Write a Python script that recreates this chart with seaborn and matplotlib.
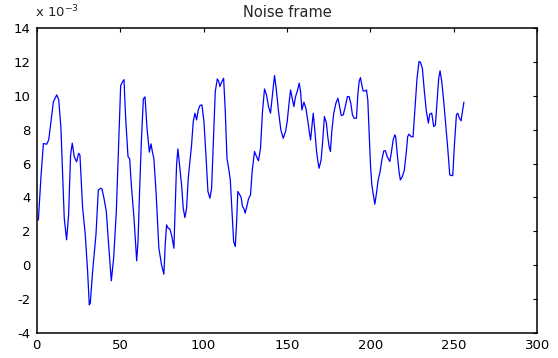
import matplotlib
matplotlib.use("Agg")
import matplotlib.pyplot as plt
import seaborn as sns
import pandas as pd

# sample index
sample = [1, 2.6, 4, 6, 7.2, 8.6, 10, 12, 13.2, 14.5, 16.5, 17.9, 19.1, 20.3, 21.3, 22.5, 23.9,
          25.1, 25.9, 27.5, 29.1, 30.5, 31.5, 32.1, 33.5, 35.5, 36.9, 38.3, 39.1, 40.3, 41.7,
          43.1, 44.7, 46.1, 47.7, 49.1, 50.3, 51.3, 52.3, 53.3, 54.7, 55.7, 56.7, 58.3, 59.9,
          60.7, 61.7, 62.7, 63.9, 64.9, 66.1, 67.5, 68.5, 69.3, 70.2, 71.6, 73.2, 74.8, 76.2,
          77.0, 77.8, 78.8, 79.8, 81.0, 82.2, 83.0, 83.8, 84.6, 85.4, 86.8, 87.8, 88.8, 89.8,
          90.8, 92.8, 93.8, 94.8, 95.8, 96.8, 97.8, 99.0, 100.2, 101.4, 102.6, 103.8, 104.8,
          105.8, 107.0, 108.2, 109.0, 109.8, 110.8, 112.0, 113.0, 114.0, 115.0, 116.0, 117.0,
          118.0, 119.0, 119.8, 120.5, 121.7, 122.5, 123.3, 124.1, 124.9, 125.9, 126.9, 128.1,
          129.1, 130.5, 131.7, 132.9, 134.1, 135.3, 136.5, 137.7, 138.9, 140.1, 141.3, 142.5,
          143.5, 144.9, 146.3, 147.7, 149.1, 150.1, 151.1, 152.1, 153.1, 154.1, 155.1, 156.1,
          157.3, 158.1, 158.9, 160.1, 161.3, 162.5, 163.3, 164.1, 164.9, 165.7, 166.7, 167.7,
          168.5, 169.2, 170.4, 171.2, 172.4, 173.6, 174.4, 175.2, 176.0, 176.8, 178.0, 179.3,
          180.5, 181.3, 182.5, 183.7, 184.9, 186.2, 187.2, 188.2, 189.2, 190.2, 191.6, 192.4,
          193.2, 194.0, 194.8, 195.6, 196.8, 197.6, 198.4, 199.2, 200.0, 200.8, 201.6, 202.6,
          203.6, 204.6, 205.8, 206.8, 208.0, 209.0, 210.0, 211.6, 212.6, 213.6, 214.6, 215.1,
          216.1, 217.1, 217.9, 219.1, 220.3, 221.5, 222.3, 223.1, 224.3, 225.5, 226.7, 227.9,
          229.1, 229.9, 231.1, 232.3, 233.5, 234.7, 235.5, 236.7, 237.9, 238.9, 239.9, 240.9,
          241.7, 242.7, 243.9, 245.1, 246.3, 247.5, 248.3, 249.3, 250.3, 251.5, 252.3, 253.3,
          254.3, 255.1, 256]

# noise amplitude in units of 1e-3
noise = [2.67, 5.3, 7.18, 7.14, 7.4, 8.5, 9.65, 10.05, 9.75, 8.1, 2.77, 1.5, 2.97, 6.5, 7.2,
         6.4, 6.1, 6.6, 6.5, 3.4, 1.8, -0.37, -2.34, -2.24, -0.37, 1.8, 4.44, 4.54, 4.5, 3.95,
         3.17, 1.2, -0.92, 0.41, 3.17, 7.1, 10.6, 10.8, 10.95, 8.67, 6.41, 6.27, 4.74, 2.77,
         0.26, 1.4, 4.54, 7.3, 9.81, 9.93, 8.08, 6.67, 7.16, 6.7, 6.3, 4.15, 1.0, 0.02, -0.53,
         1.2, 2.38, 2.18, 2.14, 1.69, 1.0, 3.56, 5.92, 6.86, 6.1, 4.74, 3.36, 2.81, 3.36,
         5.13, 7.1, 8.48, 8.97, 8.57, 9.16, 9.42, 9.46, 8.48, 6.51, 4.35, 3.95, 4.54,
         7.1, 10.25, 10.99, 10.87, 10.54, 10.8, 11.03, 9.07, 6.31, 5.72, 5.03, 3.17,
         1.4, 1.1, 2.58, 4.35, 4.15, 4.0, 3.46, 3.36, 3.07, 3.46, 3.91, 4.15,
         5.53, 6.71, 6.41, 6.16, 6.9, 9.07, 10.4, 10.05, 9.36, 8.97, 10.05, 11.19,
         10.44, 9.07, 7.98, 7.49, 7.89, 8.48, 9.46, 10.34, 9.85, 9.36, 9.95, 10.25,
         10.74, 10.25, 9.16, 9.62, 9.26, 8.48, 7.89, 7.39, 8.18, 8.97, 7.89, 6.71,
         6.12, 5.72, 6.21, 7.1, 8.77, 8.38, 7.59, 7.0, 6.71, 7.89, 8.97, 9.56,
         9.85, 9.46, 8.83, 8.87, 9.36, 9.95, 9.95, 9.56, 8.87, 8.67, 8.67, 10.05,
         10.84, 11.07, 10.64, 10.28, 10.28, 10.34, 9.75, 7.89, 5.92, 4.74, 4.25, 3.6,
         4.25, 5.03, 5.53, 6.21, 6.75, 6.75, 6.41, 6.12, 6.71, 7.39, 7.69, 7.59,
         6.51, 5.53, 5.03, 5.23, 5.62, 6.71, 7.59, 7.73, 7.59, 7.57, 9.26, 11.03,
         12.02, 11.98, 11.62, 10.25, 9.07, 8.38, 8.91, 8.97, 8.18, 8.28, 9.66, 11.03,
         11.47, 10.84, 9.66, 8.28, 6.9, 5.33, 5.29, 5.29, 7.1, 8.87, 8.97, 8.67,
         8.52, 9.07, 9.62]

xticks = [0, 50, 100, 150, 200, 250, 300]
yticks = [-4, -2, 0, 2, 4, 6, 8, 10, 12, 14]
title = "Noise frame"
exponent_label = "x 10$^{-3}$"

sns.set_style("white")
plt.rcParams['font.family'] = ['DejaVu Sans']
plt.rcParams['mathtext.fontset'] = 'dejavusans'

fig = plt.figure(figsize=(5.58, 3.58), dpi=100)
ax = fig.add_axes([0.0658, 0.0698, 0.8972, 0.8522])

df = pd.DataFrame({"sample": sample, "noise": noise})
sns.lineplot(data=df, x="sample", y="noise", color=(0, 0, 1), linewidth=0.9, ax=ax,
             estimator=None, sort=False)

ax.set_xlim(0, 300)
ax.set_ylim(-4, 14)
ax.set_xticks(xticks)
ax.set_yticks(yticks)
ax.set_xticklabels([str(t) for t in xticks], fontsize=9.5)
ax.set_yticklabels([str(t) for t in yticks], fontsize=9.5)
ax.set_xlabel("")
ax.set_ylabel("")
ax.tick_params(direction='in', length=3, width=0.8, top=True, right=True,
               colors='black')
ax.tick_params(axis='y', pad=4.5)
ax.tick_params(axis='x', pad=4)
for sp in ax.spines.values():
    sp.set_visible(True)
    sp.set_color('black')
    sp.set_linewidth(1.1)

ax.set_title(title, fontsize=10.5, pad=8)
ax.text(-0.003, 1.025, exponent_label, transform=ax.transAxes, fontsize=9.5,
        ha='left', va='bottom')

fig.savefig("out.png", dpi=100)
